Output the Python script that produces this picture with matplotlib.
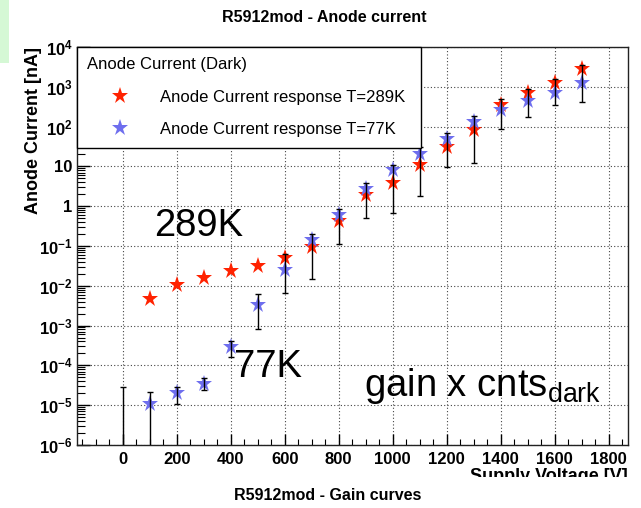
import numpy as np
import matplotlib
matplotlib.use('Agg')
import matplotlib.pyplot as plt
from matplotlib.patches import Rectangle
from matplotlib.ticker import FixedLocator, FixedFormatter, LogLocator, MultipleLocator

plt.rcParams['font.family'] = ['Liberation Sans', 'DejaVu Sans']
plt.rcParams['mathtext.fontset'] = 'custom'
plt.rcParams['mathtext.rm'] = 'Liberation Sans'
plt.rcParams['mathtext.it'] = 'Liberation Sans'
plt.rcParams['mathtext.bf'] = 'Liberation Sans:bold'

# Напряжение питания [V]
volt = [100, 200, 300, 400, 500, 600, 700, 800, 900, 1000,
        1100, 1200, 1300, 1400, 1500, 1600, 1700]

# Анодный ток [nA], T = 289K
cur_289 = [0.0046, 0.0105, 0.016, 0.023, 0.032, 0.049, 0.093, 0.43, 1.9, 3.8,
           10.8, 31, 82, 345, 710, 1260, 2800]

# Анодный ток [nA], T = 77K
cur_77 = [1.07e-5, 2.06e-5, 3.5e-5, 2.95e-4, 0.0033, 0.025, 0.14, 0.6, 2.7, 8.1,
          21, 48, 133, 262, 450, 710, 1230]

# Погрешности: нижняя и верхняя граница
err_volt = [0, 100, 200, 300, 400, 500, 600, 700, 800, 900, 1000,
            1100, 1200, 1300, 1400, 1500, 1600, 1700]
err_lo = [1e-7, 1e-7, 1.1e-5, 2.4e-5, 1.6e-4, 8.1e-4, 0.0065, 0.0145, 0.11, 0.51, 0.68,
          1.8, 9.5, 12, 85, 170, 350, 410]
err_hi = [2.9e-5, 2.1e-5, 2.9e-5, 4.7e-5, 4.2e-4, 6.2e-3, 0.062, 0.2, 0.83, 3.9, 10.8,
          30, 70, 186, 490, 870, 1580, 3550]

y_ticks = [1e-6, 1e-5, 1e-4, 1e-3, 1e-2, 1e-1, 1, 10, 1e2, 1e3, 1e4]
y_labels = [r'$\mathbf{10^{-6}}$', r'$\mathbf{10^{-5}}$', r'$\mathbf{10^{-4}}$',
            r'$\mathbf{10^{-3}}$', r'$\mathbf{10^{-2}}$', r'$\mathbf{10^{-1}}$',
            '1', '10', r'$\mathbf{10^{2}}$', r'$\mathbf{10^{3}}$', r'$\mathbf{10^{4}}$']

fig = plt.figure(figsize=(6.41, 5.08), dpi=100)
ax = fig.add_axes([76.7/641, 1-445/508, (627.7-76.7)/641, (445-47)/508])

# Точки
ax.plot(volt, cur_289, '*', color='#ff2200', ms=12.5, mew=0, zorder=3,
        label='Anode Current response T=289K')
ax.plot(volt, cur_77, '*', color='#6e6eee', ms=12.5, mew=0, zorder=3,
        label='Anode Current response T=77K')

# Планки погрешностей
lo = np.array(err_lo)
hi = np.array(err_hi)
mid = np.sqrt(lo * hi)
ax.errorbar(err_volt, mid, yerr=[mid - lo, hi - mid], fmt='none', ecolor='black',
            elinewidth=1, capsize=2.5, capthick=1, zorder=4)

ax.set_yscale('log')
ax.set_xlim(-170, 1870)
ax.set_ylim(1e-6, 1e4)

ax.yaxis.set_major_locator(FixedLocator(y_ticks))
ax.yaxis.set_major_formatter(FixedFormatter(y_labels))
ax.yaxis.set_minor_locator(LogLocator(base=10, subs=np.arange(2, 10), numticks=20))
ax.xaxis.set_major_locator(MultipleLocator(200))
ax.xaxis.set_minor_locator(MultipleLocator(50))

ax.tick_params(axis='y', which='major', direction='in', length=9.4, width=1, pad=3,
               labelsize=12)
ax.tick_params(axis='y', which='minor', direction='in', length=5.5, width=0.8)
ax.tick_params(axis='x', which='major', direction='in', length=8, width=1, pad=5,
               labelsize=12)
ax.tick_params(axis='x', which='minor', direction='in', length=4.3, width=0.8)
for lab in ax.get_xticklabels() + ax.get_yticklabels():
    lab.set_fontweight('bold')

ax.grid(True, which='major', color='#444444', linestyle=(0, (1, 2)), linewidth=0.8)
for s in ax.spines.values():
    s.set_color('#222222')
    s.set_linewidth(1)

leg = ax.legend(title='Anode Current (Dark)', loc='upper left',
                bbox_to_anchor=(0, 1 - 100/398, 344/551, 100/398), mode='expand',
                borderaxespad=0, fontsize=12, title_fontsize=12, alignment='left',
                frameon=True, fancybox=False, edgecolor='black', framealpha=1,
                handlelength=4.0, handletextpad=0.35, labelspacing=1.05, borderpad=0.62)
leg.get_frame().set_linewidth(1)
leg.set_zorder(6)

# Надписи на графике
ax.text(118, 0.32, '289K', fontsize=27.5, va='center', ha='left')
ax.text(413, 9e-5, '77K', fontsize=27.5, va='center', ha='left')
ax.text(893, 1.7e-5, r'gain x cnts$_{\mathrm{dark}}$', fontsize=27.5, va='baseline', ha='left')

# Подписи осей и заголовки
fig.text(34/641, 1-47/508, 'Anode Current [nA]', rotation=90, ha='center', va='top',
         fontsize=13, fontweight='bold')
fig.text(627.7/641, 1-468/508, 'Supply Voltage [V]', ha='right', va='top',
         fontsize=13, fontweight='bold')
fig.patches.append(Rectangle((430/641, 1-490/508), 211/641, 13/508,
                             transform=fig.transFigure, facecolor='white',
                             edgecolor='none', zorder=4))
fig.text(324/641, 1-17/508, 'R5912mod - Anode current', ha='center', va='center',
         fontsize=11.5, fontweight='bold')
fig.text(328/641, 1-495/508, 'R5912mod - Gain curves', ha='center', va='center',
         fontsize=11.5, fontweight='bold', zorder=5)
fig.patches.append(Rectangle((0, 1-63/508), 9/641, 63/508, transform=fig.transFigure,
                             facecolor='#d5f8d5', edgecolor='none'))

fig.savefig('out.png', dpi=100)
